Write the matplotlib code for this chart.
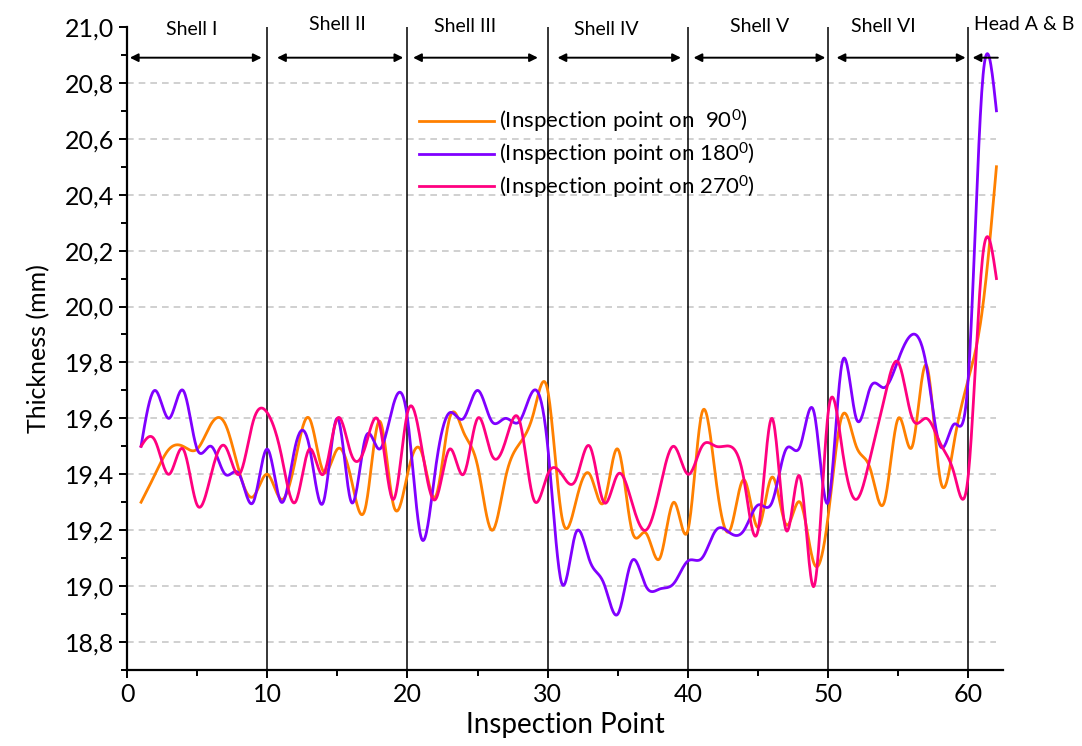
import matplotlib
matplotlib.use('Agg')  # no display here
import matplotlib.pyplot as plt
from matplotlib.ticker import MultipleLocator, FuncFormatter
import numpy as np

# inspection points 1..62
points = list(range(1, 63))

t90 = [19.30, 19.40, 19.49, 19.50, 19.49, 19.58, 19.58, 19.41, 19.32, 19.40,
       19.31, 19.45, 19.60, 19.41, 19.49, 19.38, 19.28, 19.59, 19.29, 19.40,
       19.48, 19.32, 19.60, 19.55, 19.43, 19.20, 19.39, 19.51, 19.62, 19.70,
       19.25, 19.30, 19.40, 19.30, 19.49, 19.20, 19.19, 19.10, 19.30, 19.20,
       19.62, 19.38, 19.20, 19.38, 19.21, 19.39, 19.22, 19.30, 19.08, 19.25,
       19.61, 19.50, 19.42, 19.30, 19.60, 19.50, 19.79, 19.38, 19.52, 19.74,
       19.99, 20.50]

t180 = [19.50, 19.70, 19.60, 19.70, 19.49, 19.50, 19.40, 19.40, 19.30, 19.49,
        19.30, 19.50, 19.50, 19.30, 19.60, 19.30, 19.53, 19.49, 19.65, 19.60,
        19.17, 19.42, 19.62, 19.60, 19.70, 19.59, 19.60, 19.59, 19.70, 19.50,
        19.01, 19.19, 19.09, 19.01, 18.90, 19.09, 19.00, 18.99, 19.01, 19.09,
        19.10, 19.20, 19.19, 19.20, 19.29, 19.30, 19.49, 19.50, 19.62, 19.30,
        19.80, 19.60, 19.71, 19.71, 19.81, 19.90, 19.79, 19.50, 19.58, 19.75,
        20.80, 20.70]

t270 = [19.50, 19.52, 19.40, 19.49, 19.29, 19.40, 19.50, 19.40, 19.59, 19.62,
        19.47, 19.30, 19.49, 19.40, 19.60, 19.47, 19.50, 19.58, 19.31, 19.62,
        19.50, 19.31, 19.49, 19.40, 19.60, 19.47, 19.52, 19.59, 19.31, 19.40,
        19.40, 19.38, 19.50, 19.30, 19.40, 19.30, 19.20, 19.35, 19.50, 19.40,
        19.50, 19.50, 19.50, 19.38, 19.20, 19.60, 19.20, 19.39, 19.00, 19.62,
        19.49, 19.31, 19.46, 19.67, 19.80, 19.60, 19.60, 19.51, 19.40, 19.40,
        20.17, 20.10]

series_labels = ['(Inspection point on  90$^0$)',
                 '(Inspection point on 180$^0$)',
                 '(Inspection point on 270$^0$)']
colors = ['#FF8000', '#8000FF', '#FF0080']

shell_names = ['Shell I', 'Shell II', 'Shell III', 'Shell IV', 'Shell V', 'Shell VI', 'Head A & B']
shell_text_x = [4.6, 15.0, 24.1, 34.2, 45.1, 53.9, 60.4]
shell_text_y = [20.99, 21.007, 21.0, 20.99, 21.0, 21.0, 21.007]
shell_arrows = [(0.2, 9.6), (10.7, 19.7), (20.4, 29.3), (30.7, 39.5),
                (40.4, 49.8), (50.6, 59.8)]
boundaries = [10, 20, 30, 40, 50, 60]


def spline(x, y, n=20):
    # natural cubic spline, smooth connect like the original plot
    x = np.asarray(x, float)
    y = np.asarray(y, float)
    h = np.diff(x)
    m = len(x)
    A = np.zeros((m, m))
    b = np.zeros(m)
    A[0, 0] = A[-1, -1] = 1
    for i in range(1, m - 1):
        A[i, i - 1] = h[i - 1]
        A[i, i] = 2 * (h[i - 1] + h[i])
        A[i, i + 1] = h[i]
        b[i] = 3 * ((y[i + 1] - y[i]) / h[i] - (y[i] - y[i - 1]) / h[i - 1])
    c = np.linalg.solve(A, b)
    xs = np.linspace(x[0], x[-1], (m - 1) * n + 1)
    i = np.clip(np.searchsorted(x, xs) - 1, 0, m - 2)
    dx = xs - x[i]
    bb = (y[i + 1] - y[i]) / h[i] - h[i] * (2 * c[i] + c[i + 1]) / 3
    d = (c[i + 1] - c[i]) / (3 * h[i])
    return xs, y[i] + bb * dx + c[i] * dx ** 2 + d * dx ** 3


plt.rcParams['font.family'] = ['Lato', 'DejaVu Sans']
plt.rcParams['mathtext.default'] = 'regular'

fig = plt.figure(figsize=(10.82, 7.46), dpi=100)
ax = fig.add_axes([0.1174, 0.1019, 0.810, 0.862])

ax.set_xlim(0, 62.5)
ax.set_ylim(18.7, 21.0)

for yv in np.arange(18.8, 20.81, 0.2):
    ax.axhline(yv, color='#c8c8c8', lw=1.2, ls=(0, (4, 3)), xmax=62.0 / 62.5, zorder=0)

ax.vlines(boundaries, 18.7, 21.0, color='black', lw=1.1, zorder=1)

for vals, col, lab in zip([t90, t180, t270], colors, series_labels):
    xs, ys = spline(points, vals)
    ax.plot(xs, ys, color=col, lw=2.0, label=lab, zorder=3)

# shell arrows and labels
for (a, b) in shell_arrows:
    ax.annotate('', xy=(b, 20.89), xytext=(a, 20.89),
                arrowprops=dict(arrowstyle='<|-|>', color='black', lw=1.4,
                                mutation_scale=12, shrinkA=0, shrinkB=0))
ax.annotate('', xy=(60.3, 20.89), xytext=(62.1, 20.89),
            arrowprops=dict(arrowstyle='-|>', color='black', lw=1.4,
                            mutation_scale=12, shrinkA=0, shrinkB=0))
for name, tx, ty in zip(shell_names, shell_text_x, shell_text_y):
    ax.text(tx, ty, name, ha='center' if name != 'Head A & B' else 'left',
            va='center', fontsize=14, clip_on=False)

ax.spines['top'].set_visible(False)
ax.spines['right'].set_visible(False)
ax.spines['left'].set_linewidth(1.6)
ax.spines['bottom'].set_linewidth(1.6)

ax.xaxis.set_major_locator(MultipleLocator(10))
ax.xaxis.set_minor_locator(MultipleLocator(5))
ax.yaxis.set_major_locator(MultipleLocator(0.2))
ax.yaxis.set_minor_locator(MultipleLocator(0.1))
ax.yaxis.set_major_formatter(FuncFormatter(lambda v, p: f'{v:.1f}'.replace('.', ',')))
ax.tick_params(which='both', direction='out', width=1.4, labelsize=18)
ax.tick_params(which='major', length=6)
ax.tick_params(which='minor', length=4)

ax.set_xlabel('Inspection Point', fontsize=20, labelpad=4)
ax.set_ylabel('Thickness (mm)', fontsize=18, labelpad=10)

ax.legend(loc='upper left', bbox_to_anchor=(0.31, 0.905), frameon=False,
          fontsize=16, handlelength=3.4, handletextpad=0.2, labelspacing=0.25)

fig.savefig('out.png', dpi=100)
